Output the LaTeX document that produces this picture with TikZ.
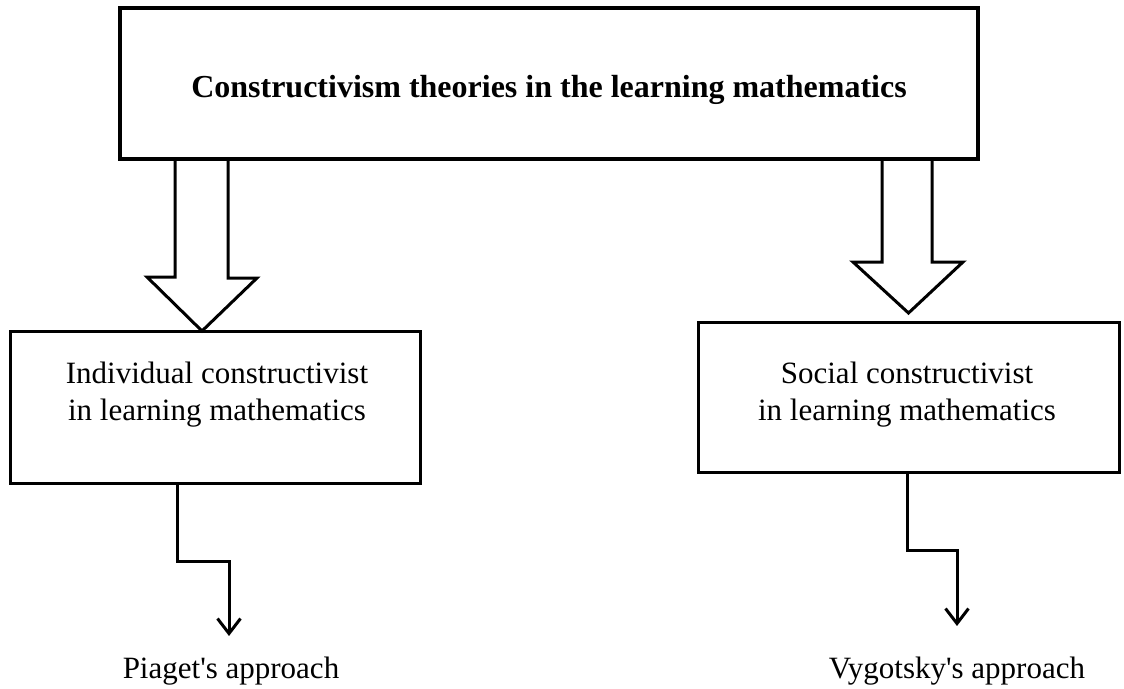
\documentclass[tikz,border=0pt]{standalone}
\usepackage{fontspec}
\setmainfont{Liberation Serif}
\usetikzlibrary{arrows.meta}

\begin{document}
\begin{tikzpicture}[x=1pt, y=-1pt, line width=3pt,
    box/.style={draw, outer sep=0pt, inner sep=0pt},
    boxtext/.style={align=center, inner sep=0pt, font=\fontsize{31}{37}\selectfont},
    hollow/.style={draw, line join=miter},
    link/.style={-{Straight Barb[length=15pt, width=23pt]}, line join=miter}]
  \useasboundingbox (0,0) rectangle (1124,688);

  \node [box, line width=3.5pt, minimum width=858pt, minimum height=151pt] (theory) at (549,83.5) {};
  \node [anchor=base, inner sep=0pt, font=\fontsize{32}{38}\selectfont\bfseries] (theorytext) at (549,97)
    {Constructivism theories in the learning mathematics};

  \node [box, minimum width=410pt, minimum height=152pt] (indiv) at (215,407) {};
  \node [boxtext] (indivtext) at (217,394.5) {Individual constructivist\\ in learning mathematics};

  \node [box, minimum width=421pt, minimum height=150pt] (social) at (908.5,397) {};
  \node [boxtext] (socialtext) at (907,394.5) {Social constructivist\\ in learning mathematics};

  \node [anchor=base, inner sep=0pt, font=\fontsize{31}{37}\selectfont] (piaget) at (231,678) {Piaget\textquotesingle s approach};
  \node [anchor=base, inner sep=0pt, font=\fontsize{31}{37}\selectfont] (vygotsky) at (957,678) {Vygotsky\textquotesingle s approach};

  \draw[hollow] ([xshift=-374pt]theory.south) -- ++(0,118) -- ++(-28,0)
    -- ([xshift=-13pt]indiv.north) -- ++(55,-53) -- ++(-29,0) -- ++(0,-118);
  \draw[hollow] ([xshift=333pt]theory.south) -- ++(0,103) -- ++(-29,0)
    -- ([yshift=9pt]social.north) -- ++(54.5,-51) -- ++(-31,0) -- ++(0,-103);

  \draw[link] ([xshift=-38pt]indiv.south) -- ++(0,78) -| ([xshift=-2pt, yshift=19pt]piaget.north);
  \draw[link] ([xshift=-1.5pt]social.south) -- ++(0,78) -| ([yshift=29pt]vygotsky.north);
\end{tikzpicture}
\end{document}
